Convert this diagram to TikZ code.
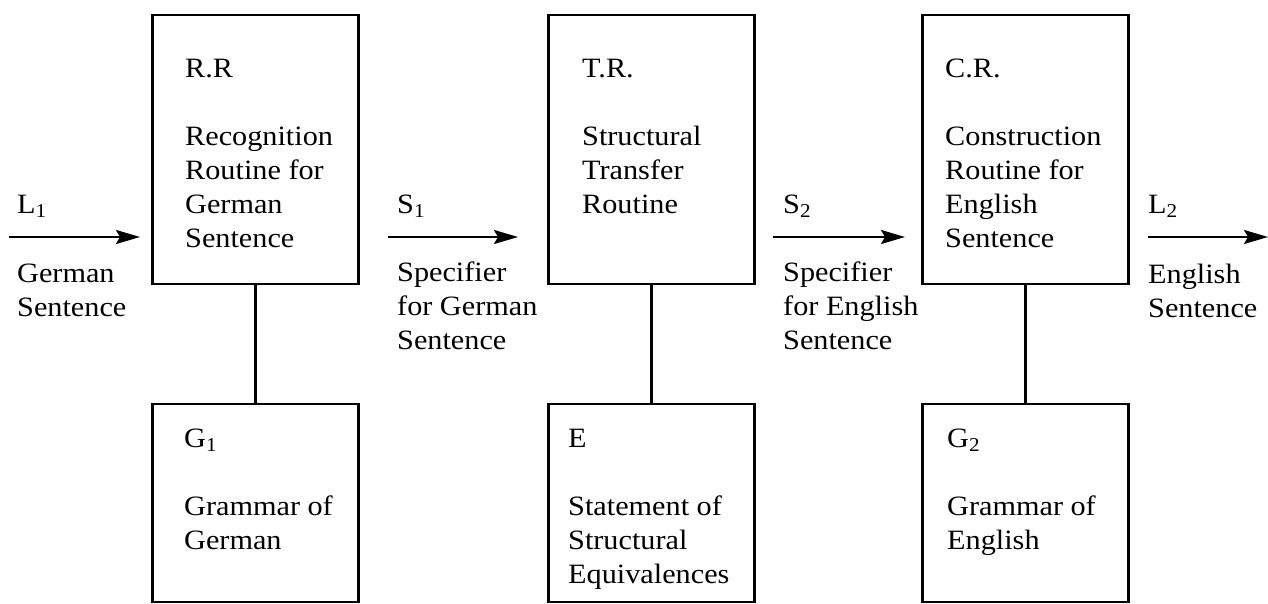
\documentclass[tikz,border=0pt]{standalone}
\usepackage{fontspec}
\setmainfont[FakeStretch=1.08]{Liberation Serif}
\usetikzlibrary{arrows.meta}

\begin{document}
\begin{tikzpicture}[x=1pt, y=-1pt,
        blk/.style={draw, line width=2.4pt, minimum width=206pt},
        txt/.style={anchor=north west, inner sep=0pt, align=left,
            font=\fontsize{28}{34}\selectfont},
        lbl/.style={anchor=base west, inner sep=0pt,
            font=\fontsize{28}{34}\selectfont},
        flow/.style={line width=2.2pt, -{Stealth[length=24pt, width=14pt, inset=4pt]}}]
    \useasboundingbox (0,0) rectangle (1268,604);

    % routines
    \node[blk, minimum height=269pt] (rr) at (255.5,149.5) {};
    \node[blk, minimum height=269pt] (tr) at (651.5,149.5) {};
    \node[blk, minimum height=269pt] (cr) at (1025.5,149.5) {};
    % grammars
    \node[blk, minimum height=198pt] (gone) at (255.5,503) {};
    \node[blk, minimum height=198pt] (eq) at (651.5,503) {};
    \node[blk, minimum height=198pt] (gtwo) at (1025.5,503) {};

    \draw[line width=2.4pt] (rr) -- (gone);
    \draw[line width=2.4pt] (tr) -- (eq);
    \draw[line width=2.4pt] (cr) -- (gtwo);

    \node[txt] (rrtext) at (185,58.5) {R.R\\[34pt]Recognition\\Routine for\\German\\Sentence};
    \node[txt] (trtext) at (582,58.5) {T.R.\\[34pt]Structural\\Transfer\\Routine};
    \node[txt] (crtext) at (945,58.5) {C.R.\\[34pt]Construction\\Routine for\\English\\Sentence};
    \node[txt] (gonetext) at (184,428.5) {G\textsubscript{1}\\[34pt]Grammar of\\German};
    \node[txt] (eqtext) at (568,428.5) {E\\[34pt]Statement of\\Structural\\Equivalences};
    \node[txt] (gtwotext) at (947,428.5) {G\textsubscript{2}\\[34pt]Grammar of\\English};

    % arrows between the stages
    \coordinate (lin) at (9,237);
    \coordinate (linend) at (140,237);
    \coordinate (sone) at (388,237);
    \coordinate (soneend) at (518,237);
    \coordinate (stwo) at (773,237);
    \coordinate (stwoend) at (905,237);
    \coordinate (lout) at (1148,237);
    \coordinate (loutend) at (1268,237);
    \draw[flow] (lin) -- (linend);
    \draw[flow] (sone) -- (soneend);
    \draw[flow] (stwo) -- (stwoend);
    \draw[flow] (lout) -- (loutend);

    \node[lbl] (lonelbl) at (17,213) {L\textsubscript{1}};
    \node[lbl] (sonelbl) at (397,213) {S\textsubscript{1}};
    \node[lbl] (stwolbl) at (783,213) {S\textsubscript{2}};
    \node[lbl] (ltwolbl) at (1148,213) {L\textsubscript{2}};
    \node[txt] (lonetext) at (17,263.5) {German\\Sentence};
    \node[txt] (sonetext) at (397,261.5) {Specifier\\for German\\Sentence};
    \node[txt] (stwotext) at (783,261.5) {Specifier\\for English\\Sentence};
    \node[txt] (ltwotext) at (1148,263.5) {English\\Sentence};
\end{tikzpicture}
\end{document}
